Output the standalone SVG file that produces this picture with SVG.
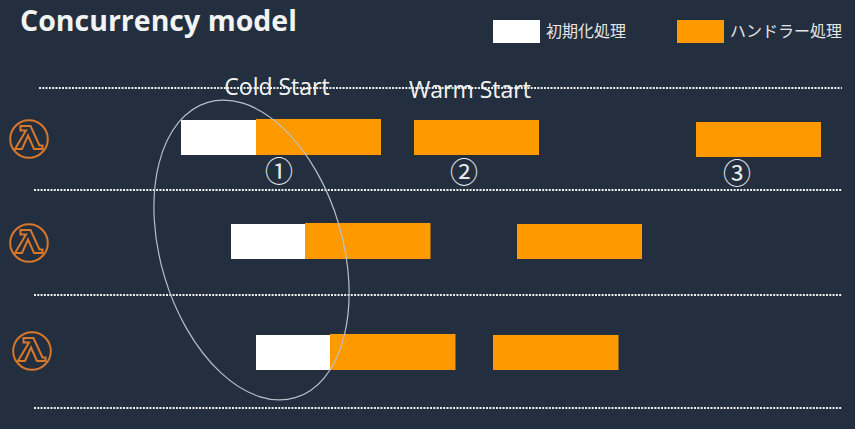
<svg xmlns="http://www.w3.org/2000/svg" width="855" height="429" viewBox="0 0 855 429">
<style>
.w{fill:#fff}
.o{fill:#ff9900}
.t{font-family:"Open Sans","Noto Sans CJK JP",sans-serif;fill:#f2f3f3}
.c{font-size:23px;text-anchor:middle}
.j{font-family:"Noto Sans CJK JP",sans-serif;font-size:16px;fill:#e4e6e8}
.d{stroke:#f0f0f0;stroke-width:2;stroke-dasharray:2 1.300;fill:none}
.n{font-family:"Noto Sans CJK JP",sans-serif;font-size:28px;fill:#e6e9ec;text-anchor:middle}
</style>
<defs>
<g id="lam" fill="none" stroke="#d9772a" stroke-width="2">
<circle r="18.800"/>
<path d="M-8.500-13H1.500L10.500 6.500H13.500V10H5L-1-3.500-7 10H-14L-3-8.500H-8.500Z"/>
</g>
</defs>
<rect width="855" height="429" fill="#232f3e"/>
<g id="lines">
<path class="d" d="M39 88H842M34 190H842M34 295H842M34 408H842"/>
</g>
<g id="title"><text class="t" x="20" y="31" font-size="28.500" font-weight="700">Concurrency model</text></g>
<g id="legend-init"><rect class="w" x="493" y="20" width="47" height="23"/><text class="j" x="546" y="37">初期化処理</text></g>
<g id="legend-handler"><rect class="o" x="677" y="20" width="47" height="23"/><text class="j" x="730" y="37">ハンドラー処理</text></g>
<g id="lambda-1"><use href="#lam" x="29" y="139"/></g>
<g id="lambda-2"><use href="#lam" x="29" y="243"/></g>
<g id="lambda-3"><use href="#lam" x="32" y="351"/></g>
<g id="cold-label"><text class="t c" x="277" y="95">Cold Start</text></g>
<g id="warm-label"><text class="t c" x="470" y="98">Warm Start</text></g>
<g id="row1-cold"><rect class="w" x="181" y="120" width="75" height="35"/><rect class="o" x="256" y="119" width="125" height="36"/></g>
<g id="row1-warm"><rect class="o" x="414" y="120" width="125" height="35"/></g>
<g id="row1-warm2"><rect class="o" x="696" y="122" width="125" height="35"/></g>
<g id="row2-cold"><rect class="w" x="231" y="224" width="75" height="35"/><rect class="o" x="305" y="223" width="125.500" height="36"/></g>
<g id="row2-warm"><rect class="o" x="517" y="224" width="125" height="35"/></g>
<g id="row3-cold"><rect class="w" x="256" y="335" width="75" height="35"/><rect class="o" x="330" y="334" width="125.500" height="36"/></g>
<g id="row3-warm"><rect class="o" x="493" y="335" width="125.500" height="35"/></g>
<g id="n1"><text class="n" x="279" y="182">①</text></g>
<g id="n2"><text class="n" x="464" y="183">②</text></g>
<g id="n3"><text class="n" x="737" y="184">③</text></g>
<g id="connectors"><ellipse cx="251.500" cy="250" rx="91" ry="154" transform="rotate(-16.500 251.500 250)" fill="none" stroke="#b8c0c9" stroke-width="1.200"/></g>
</svg>
